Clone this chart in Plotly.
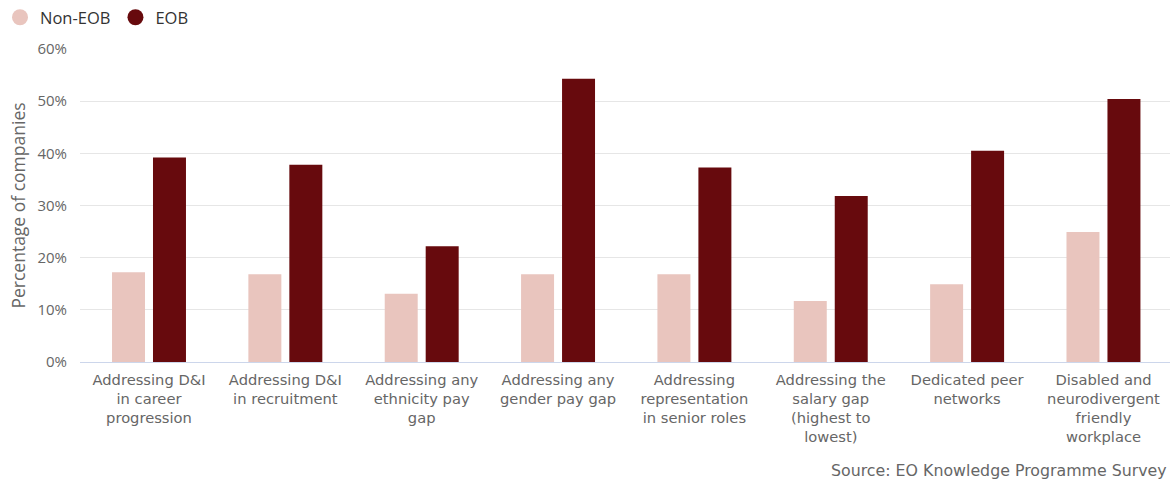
import plotly.graph_objects as go

categories = [
    "Addressing D&I<br>in career<br>progression",
    "Addressing D&I<br>in recruitment",
    "Addressing any<br>ethnicity pay<br>gap",
    "Addressing any<br>gender pay gap",
    "Addressing<br>representation<br>in senior roles",
    "Addressing the<br>salary gap<br>(highest to<br>lowest)",
    "Dedicated peer<br>networks",
    "Disabled and<br>neurodivergent<br>friendly<br>workplace",
]
non_eob = [17.2, 16.8, 13.1, 16.8, 16.8, 11.7, 14.9, 24.9]
eob = [39.2, 37.8, 22.2, 54.3, 37.3, 31.8, 40.5, 50.4]
tick_vals = [0, 10, 20, 30, 40, 50, 60]
tick_text = ["0%", "10%", "20%", "30%", "40%", "50%", "60%"]

PINK = "#E9C5BE"
DARK = "#670A0D"
GRAY = "#666666"

fig = go.Figure()
fig.add_trace(go.Bar(x=categories, y=non_eob, name="Non-EOB", marker_color=PINK,
                     marker_line_width=0, showlegend=False))
fig.add_trace(go.Bar(x=categories, y=eob, name="EOB", marker_color=DARK,
                     marker_line_width=0, showlegend=False))
# legend entries with circle markers
fig.add_trace(go.Scatter(x=[None], y=[None], mode="markers", name="Non-EOB",
                         marker=dict(color=PINK, size=17, symbol="circle")))
fig.add_trace(go.Scatter(x=[None], y=[None], mode="markers", name="EOB",
                         marker=dict(color=DARK, size=17, symbol="circle")))

fig.update_layout(
    width=1170, height=482,
    margin=dict(l=80, r=0, t=49, b=120),
    paper_bgcolor="white", plot_bgcolor="white",
    barmode="group", bargap=0.399, bargroupgap=0.195,
    font=dict(family="DejaVu Sans", color=GRAY),
    legend=dict(orientation="h", xref="container", yref="container",
                x=0.0, y=1.0, xanchor="left", yanchor="top",
                font=dict(family="Open Sans", size=16.5, color="#333333"),
                itemwidth=30, tracegroupgap=0, bgcolor="rgba(0,0,0,0)"),
    xaxis=dict(tickfont=dict(family="DejaVu Sans", size=14.7, color=GRAY),
               range=[-0.506, 7.488],
               showline=True, linecolor="#CCD6EB", linewidth=1,
               ticks="", showgrid=False, tickangle=0, ticklabelstandoff=4),
    yaxis=dict(range=[0, 60], tickvals=tick_vals, ticktext=tick_text,
               tickfont=dict(family="Open Sans", size=15, color=GRAY),
               ticklabelstandoff=12,
               gridcolor="#E6E6E6", gridwidth=1, zeroline=False,
               title=dict(text="Percentage of companies",
                          font=dict(family="Open Sans", size=17.5, color=GRAY),
                          standoff=7)),
    annotations=[dict(text="Source: EO Knowledge Programme Survey",
                      xref="paper", yref="paper", x=1.0, y=-0.348,
                      xanchor="right", yanchor="middle", xshift=-1, showarrow=False,
                      font=dict(family="DejaVu Sans", size=15.8, color=GRAY))],
)

fig.write_html("out.html")
